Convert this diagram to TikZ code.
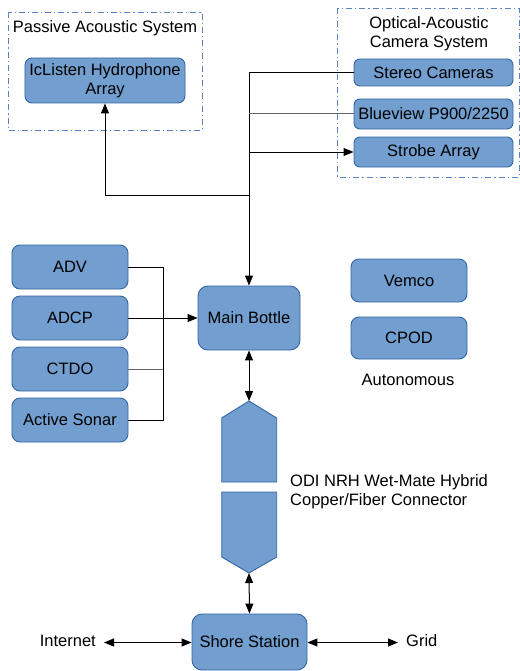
\documentclass[tikz,border=0pt]{standalone}
\usepackage{fontspec}
\setmainfont{Liberation Sans}
\usetikzlibrary{arrows.meta}
\definecolor{boxfill}{HTML}{729FCF}
\definecolor{boxline}{HTML}{3465A4}
\definecolor{grpline}{HTML}{5B83C0}
\begin{document}
\begin{tikzpicture}[x=1bp,y=-1bp,
  font=\fontsize{16.5bp}{19bp}\selectfont,
  box/.style={draw=boxline,fill=boxfill,line width=0.9bp,rounded corners=#1,inner sep=0pt,align=center},
  box/.default=8bp,
  grp/.style={draw=grpline,line width=0.9bp,dash pattern=on 6bp off 3bp on 1.2bp off 3bp},
  conn/.style={line width=1bp,black},
  gconn/.style={line width=1bp,black!60},
  arr/.style={conn,-{Triangle[length=10bp,width=8bp]}},
  darr/.style={conn,{Triangle[length=10bp,width=8bp]}-{Triangle[length=10bp,width=8bp]}},
  lbl/.style={inner sep=0pt,align=center}]
\useasboundingbox (0,0) rectangle (520,671);
% groups
\draw[grp] (8,12) rectangle (202,130);
\node[lbl] (pastxt) at (105,28) {Passive Acoustic System};
\draw[grp] (337.5,8) rectangle (519,177);
\node[lbl] (opttxt) at (429,34) {Optical-Acoustic\\Camera System};
% nodes
\node[box=7bp,minimum width=160bp,minimum height=45bp] (ic) at (105,80.5) {IcListen Hydrophone\\Array};
\node[box=6bp,minimum width=159bp,minimum height=27bp] (stereo) at (433.5,72.5) {Stereo Cameras};
\node[box=6bp,minimum width=159bp,minimum height=30bp] (blue) at (433.5,114) {Blueview P900/2250};
\node[box=6bp,minimum width=159bp,minimum height=30bp] (strobe) at (433.5,152) {Strobe Array};
\node[box,minimum width=116bp,minimum height=44bp] (adv) at (70,267) {ADV};
\node[box,minimum width=116bp,minimum height=44bp] (adcp) at (70,318) {ADCP};
\node[box,minimum width=116bp,minimum height=44bp] (ctdo) at (70,369) {CTDO};
\node[box,minimum width=116bp,minimum height=44bp] (sonar) at (70,420) {Active Sonar};
\node[box=10bp,minimum width=102bp,minimum height=64bp] (mb) at (249,318) {Main Bottle};
\node[box,minimum width=116bp,minimum height=43bp] (vemco) at (409,280.5) {Vemco};
\node[box,minimum width=116bp,minimum height=42bp] (cpod) at (409,338) {CPOD};
\node[lbl] (auto) at (408,380) {Autonomous};
\node[box=10bp,minimum width=115bp,minimum height=56bp] (shore) at (249.5,642) {Shore Station};
\node[lbl,anchor=east] (internet) at (96,641) {Internet};
\node[lbl,anchor=west] (grid) at (406,641) {Grid};
\node[lbl,anchor=west,align=left] (oditxt) at (290,491.5) {ODI NRH Wet-Mate Hybrid\\Copper/Fiber Connector};
% connector halves
\draw[draw=boxline,fill=boxfill,line width=0.9bp] (249,401) -- (276.7,418) -- (276.7,482) -- (221.7,482) -- (221.7,418) -- cycle;
\draw[draw=boxline,fill=boxfill,line width=0.9bp] (221.7,492) -- (276.7,492) -- (276.7,557) -- (249,573) -- (221.7,557) -- cycle;
\coordinate (contop) at (249,401);
\coordinate (conbot) at (249,573);
\coordinate (jn) at (249,195);
\coordinate (bus) at (163,267);
\coordinate (inetend) at (104,642.5);
\coordinate (gridend) at (398,642.5);
% connectors top
\draw[arr] (stereo.west) -| (mb.north);
\draw[gconn] (blue.west) -- (blue.west -| mb.north);
\draw[arr] (strobe.west -| mb.north) -- (strobe.west);
\draw[arr] (jn) -| (ic.south);
% left bus
\draw[conn] (adv.east) -- (bus) |- (sonar.east);
\draw[gconn] (ctdo.east) -- (ctdo.east -| bus);
\draw[arr] (adcp.east) -- (mb.west);
% vertical chain
\draw[darr] (mb.south) -- (contop);
\draw[darr] (conbot) -- (shore.north);
\draw[darr] (shore.west |- inetend) -- (inetend);
\draw[darr] (shore.east |- gridend) -- (gridend);
\end{tikzpicture}
\end{document}
